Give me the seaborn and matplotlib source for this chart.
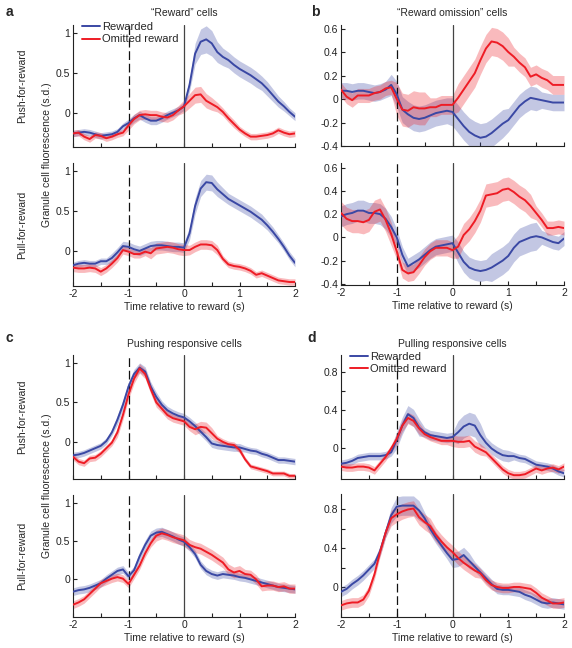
import numpy as np
import pandas as pd
import matplotlib
matplotlib.use("Agg")
import matplotlib.pyplot as plt
from matplotlib.lines import Line2D
import seaborn as sns

# ---------------- data ----------------
t = np.round(np.arange(-2, 2.0001, 0.1), 1)

# a: "Reward" cells
a_top_rew = [-0.26,-0.25,-0.24,-0.25,-0.27,-0.29,-0.28,-0.27,-0.24,-0.17,
             -0.13,-0.07,-0.03,-0.07,-0.10,-0.10,-0.07,-0.03,0.00,0.03,
             0.08,0.35,0.74,0.89,0.92,0.87,0.76,0.70,0.66,0.60,
             0.55,0.51,0.47,0.42,0.37,0.30,0.22,0.14,0.08,0.01,-0.05]
a_top_rew_err = [0.04]*10 + [0.05]*10 + [0.05,0.08,0.13,0.16,0.17,0.16,0.13,0.11,0.10,0.10,
                 0.10,0.10,0.10,0.10,0.09,0.09,0.08,0.07,0.06,0.05,0.05]
a_top_om = [-0.26,-0.25,-0.30,-0.33,-0.28,-0.29,-0.32,-0.30,-0.27,-0.25,
            -0.16,-0.08,-0.03,-0.02,-0.03,-0.03,-0.05,-0.06,-0.03,0.03,
            0.08,0.15,0.22,0.23,0.15,0.11,0.07,0.01,-0.07,-0.14,
            -0.21,-0.26,-0.30,-0.30,-0.29,-0.28,-0.26,-0.22,-0.25,-0.27,-0.26]
a_top_om_err = [0.04]*10 + [0.06]*10 + [0.08,0.09,0.10,0.10,0.09,0.08,0.06,0.05,0.05,0.05,
                0.04,0.04,0.04,0.04,0.04,0.04,0.04,0.04,0.04,0.04,0.04]
a_bot_rew = [-0.18,-0.16,-0.15,-0.16,-0.16,-0.13,-0.13,-0.09,-0.02,0.06,
             0.05,0.02,0.00,0.03,0.06,0.07,0.07,0.06,0.05,0.05,
             0.04,0.22,0.56,0.78,0.86,0.85,0.77,0.71,0.65,0.61,
             0.57,0.53,0.49,0.44,0.39,0.32,0.24,0.15,0.05,-0.06,-0.15]
a_bot_rew_err = [0.04]*7 + [0.06]*13 + [0.06,0.08,0.10,0.10,0.10,0.10,0.09,0.08,0.07,0.07,
                 0.07,0.07,0.07,0.07,0.07,0.06,0.06,0.05,0.05,0.05,0.05]
a_bot_om = [-0.21,-0.22,-0.22,-0.21,-0.22,-0.26,-0.22,-0.16,-0.09,0.01,
            -0.01,-0.04,-0.04,-0.01,-0.03,0.03,0.04,0.05,0.04,0.02,
            0.01,0.01,0.05,0.08,0.08,0.07,0.01,-0.10,-0.17,-0.19,
            -0.20,-0.22,-0.25,-0.30,-0.28,-0.31,-0.34,-0.37,-0.38,-0.39,-0.39]
a_bot_om_err = [0.05]*14 + [0.07]*7 + [0.06]*6 + [0.04]*14

# b: "Reward omission" cells
b_top_rew = [0.07,0.07,0.06,0.07,0.07,0.06,0.05,0.06,0.08,0.12,
             0.04,-0.09,-0.13,-0.16,-0.17,-0.16,-0.14,-0.12,-0.11,-0.10,
             -0.11,-0.17,-0.23,-0.28,-0.31,-0.33,-0.32,-0.29,-0.25,-0.21,
             -0.18,-0.12,-0.06,-0.02,0.01,0.00,-0.01,-0.02,-0.03,-0.03,-0.03]
b_top_rew_err = [0.07]*9 + [0.09] + [0.11]*10 + [0.12]*10 + [0.10]*6 + [0.07]*5
b_top_om = [0.08,0.02,-0.01,0.03,0.03,0.03,0.05,0.06,0.09,0.10,
            0.00,-0.09,-0.10,-0.07,-0.08,-0.08,-0.07,-0.07,-0.05,-0.05,
            -0.05,0.01,0.08,0.15,0.22,0.33,0.43,0.49,0.48,0.45,
            0.40,0.36,0.31,0.27,0.19,0.21,0.18,0.16,0.12,0.12,0.12]
b_top_om_err = [0.06]*10 + [0.14]*6 + [0.08]*5 + [0.12]*10 + [0.08]*10
b_bot_rew = [0.18,0.20,0.21,0.23,0.23,0.21,0.21,0.20,0.16,0.09,
             0.00,-0.15,-0.25,-0.22,-0.19,-0.15,-0.11,-0.08,-0.07,-0.06,
             -0.05,-0.13,-0.21,-0.26,-0.28,-0.29,-0.28,-0.26,-0.23,-0.20,
             -0.16,-0.09,-0.04,-0.02,0.00,0.01,0.00,-0.02,-0.04,-0.05,-0.01]
b_bot_rew_err = [0.09]*10 + [0.07]*11 + [0.09]*6 + [0.12]*9 + [0.06]*5
b_bot_om = [0.21,0.16,0.14,0.14,0.13,0.15,0.22,0.24,0.15,0.03,
            -0.12,-0.28,-0.31,-0.30,-0.24,-0.17,-0.12,-0.09,-0.09,-0.09,
            -0.11,-0.08,0.02,0.07,0.14,0.23,0.36,0.37,0.38,0.41,
            0.42,0.39,0.35,0.32,0.27,0.21,0.15,0.08,0.08,0.09,0.08]
b_bot_om_err = [0.10]*10 + [0.07]*11 + [0.10]*14 + [0.06]*6

# c: Pushing responsive cells
c_top_rew = [-0.17,-0.16,-0.14,-0.11,-0.08,-0.05,0.01,0.12,0.28,0.47,
             0.70,0.86,0.94,0.89,0.70,0.57,0.47,0.40,0.36,0.33,
             0.31,0.26,0.20,0.13,0.06,-0.02,-0.04,-0.05,-0.06,-0.07,
             -0.07,-0.09,-0.11,-0.12,-0.15,-0.17,-0.20,-0.23,-0.23,-0.24,-0.25]
c_top_rew_err = [0.04]*8 + [0.06]*8 + [0.05]*15 + [0.04]*10
c_top_om = [-0.19,-0.25,-0.27,-0.21,-0.20,-0.15,-0.08,-0.01,0.12,0.34,
            0.60,0.80,0.93,0.86,0.67,0.50,0.42,0.34,0.30,0.28,
            0.26,0.19,0.16,0.19,0.18,0.11,0.04,0.00,-0.03,-0.04,
            -0.10,-0.22,-0.31,-0.33,-0.35,-0.37,-0.40,-0.40,-0.40,-0.43,-0.43]
c_top_om_err = [0.04]*8 + [0.06]*8 + [0.05]*6 + [0.07]*4 + [0.04]*5 + [0.03]*10
c_bot_rew = [-0.16,-0.14,-0.13,-0.11,-0.08,-0.05,0.01,0.06,0.11,0.13,
             0.04,0.12,0.30,0.45,0.57,0.61,0.62,0.59,0.56,0.52,
             0.49,0.42,0.33,0.19,0.11,0.07,0.05,0.07,0.06,0.05,
             0.03,0.02,0.00,-0.02,-0.04,-0.06,-0.08,-0.10,-0.11,-0.12,-0.13]
c_bot_rew_err = [0.05]*12 + [0.06]*9 + [0.05]*20
c_bot_om = [-0.33,-0.30,-0.26,-0.19,-0.12,-0.05,-0.02,0.01,0.03,0.01,
            -0.06,0.06,0.18,0.34,0.47,0.57,0.60,0.58,0.55,0.53,
            0.51,0.45,0.42,0.40,0.36,0.32,0.27,0.22,0.13,0.09,
            0.11,0.07,0.06,0.00,-0.09,-0.08,-0.08,-0.10,-0.09,-0.12,-0.12]
c_bot_om_err = [0.05]*15 + [0.07]*16 + [0.06]*10

# d: Pulling responsive cells
d_top_rew = [-0.16,-0.15,-0.13,-0.10,-0.09,-0.08,-0.08,-0.08,-0.07,-0.04,
             0.09,0.24,0.36,0.32,0.22,0.17,0.14,0.13,0.12,0.11,
             0.12,0.17,0.23,0.26,0.24,0.14,0.06,0.00,-0.04,-0.07,
             -0.08,-0.08,-0.10,-0.11,-0.14,-0.17,-0.18,-0.19,-0.21,-0.24,-0.26]
d_top_rew_err = [0.04]*10 + [0.09]*5 + [0.05]*6 + [0.12]*5 + [0.06]*5 + [0.04]*10
d_top_om = [-0.19,-0.20,-0.20,-0.19,-0.19,-0.20,-0.23,-0.16,-0.09,0.00,
            0.10,0.24,0.32,0.29,0.21,0.15,0.12,0.10,0.08,0.08,
            0.08,0.07,0.07,0.08,0.02,-0.01,-0.04,-0.10,-0.16,-0.22,
            -0.26,-0.28,-0.28,-0.27,-0.24,-0.21,-0.23,-0.21,-0.20,-0.22,-0.19]
d_top_om_err = [0.04]*10 + [0.06]*5 + [0.04]*5 + [0.06]*6 + [0.04]*15
d_bot_rew = [-0.05,-0.02,0.03,0.07,0.12,0.18,0.24,0.37,0.56,0.74,
             0.83,0.84,0.84,0.84,0.79,0.71,0.60,0.51,0.43,0.35,
             0.28,0.29,0.33,0.27,0.21,0.15,0.09,0.03,-0.02,-0.03,
             -0.03,-0.04,-0.05,-0.08,-0.10,-0.13,-0.16,-0.17,-0.16,-0.17,-0.18]
d_bot_rew_err = [0.05]*9 + [0.08] + [0.10]*5 + [0.06]*5 + [0.08]*4 + [0.05]*17
d_bot_om = [-0.19,-0.17,-0.16,-0.16,-0.13,-0.04,0.13,0.36,0.56,0.71,
            0.75,0.78,0.80,0.81,0.72,0.67,0.63,0.54,0.47,0.41,
            0.36,0.30,0.25,0.21,0.17,0.14,0.07,0.02,0.00,-0.01,
            -0.01,0.00,0.00,-0.01,-0.02,-0.06,-0.11,-0.14,-0.17,-0.17,-0.16]
d_bot_om_err = [0.05]*9 + [0.08]*8 + [0.07]*8 + [0.05]*16

conditions = ["Rewarded", "Omitted reward"]
BLUE = "#3a48a4"
RED = "#ee1c25"

# ---------------- style ----------------
sns.set_style("ticks")
plt.rcParams["font.family"] = ["Liberation Sans", "DejaVu Sans"]
plt.rcParams["axes.unicode_minus"] = False

W, H = 572, 648
fig = plt.figure(figsize=(W / 100, H / 100), dpi=100)
FS = 7.5


def add_ax(x0, y0, x1, y1):
    return fig.add_axes([x0 / W, 1 - y1 / H, (x1 - x0) / W, (y1 - y0) / H])


def ftext(x, y, s, **kw):
    fig.text(x / W, 1 - y / H, s, **kw)


def draw_panel(ax, rew, rew_err, om, om_err, ylim, yticks, ylabels, bottom):
    rew = np.asarray(rew); om = np.asarray(om)
    rew_err = np.asarray(rew_err); om_err = np.asarray(om_err)
    ax.fill_between(t, rew - rew_err, rew + rew_err, color=BLUE, alpha=0.3, lw=0, zorder=1)
    ax.fill_between(t, om - om_err, om + om_err, color=RED, alpha=0.3, lw=0, zorder=1)
    ax.axvline(-1, color="#111111", ls=(0, (7, 3)), lw=0.9, zorder=2)
    ax.axvline(0, color="#444444", lw=0.9, zorder=2)
    df = pd.DataFrame({
        "t": np.concatenate([t, t]),
        "value": np.concatenate([rew, om]),
        "condition": [conditions[0]] * len(t) + [conditions[1]] * len(t),
    })
    sns.lineplot(data=df, x="t", y="value", hue="condition",
                 palette={conditions[0]: BLUE, conditions[1]: RED},
                 ax=ax, legend=False, lw=1.4, zorder=3)
    ax.set_xlim(-2, 2)
    ax.set_ylim(*ylim)
    ax.set_xticks(np.arange(-2, 2.01, 0.5))
    if bottom:
        ax.set_xticklabels(["-2", "", "-1", "", "0", "", "1", "", "2"])
        ax.set_xlabel("Time relative to reward (s)", fontsize=FS, labelpad=2)
    else:
        ax.set_xticklabels([""] * 9)
        ax.set_xlabel("")
    ax.set_yticks(yticks)
    ax.set_yticklabels(ylabels)
    ax.set_ylabel("")
    ax.tick_params(direction="in", length=3, width=0.8, labelsize=FS, pad=2, colors="#222222")
    sns.despine(ax=ax)
    for s in ("left", "bottom"):
        ax.spines[s].set_linewidth(0.8)
        ax.spines[s].set_color("#222222")


def add_legend(ax):
    handles = [Line2D([], [], color=BLUE, lw=1.4), Line2D([], [], color=RED, lw=1.4)]
    ax.legend(handles, conditions, loc="upper left", bbox_to_anchor=(0.04, 1.025),
              frameon=False, fontsize=FS + 0.5, handlelength=1.6, handletextpad=0.25,
              labelspacing=0.22, borderpad=0, borderaxespad=0)


ab_ticks = [0, 0.5, 1]; ab_labels = ["0", "0.5", "1"]
b_ticks = [-0.4, -0.2, 0, 0.2, 0.4, 0.6]; b_labels = ["-0.4", "-0.2", "0", "0.2", "0.4", "0.6"]
d_ticks = [0, 0.2, 0.4, 0.6, 0.8]; d_labels = ["0", "", "0.4", "", "0.8"]

ax = add_ax(73, 25, 295, 147)
draw_panel(ax, a_top_rew, a_top_rew_err, a_top_om, a_top_om_err, (-0.43, 1.1), ab_ticks, ab_labels, False)
add_legend(ax)
ax = add_ax(73, 163, 295, 286)
draw_panel(ax, a_bot_rew, a_bot_rew_err, a_bot_om, a_bot_om_err, (-0.44, 1.1), ab_ticks, ab_labels, True)

ax = add_ax(341, 25, 564, 146)
draw_panel(ax, b_top_rew, b_top_rew_err, b_top_om, b_top_om_err, (-0.4, 0.63), b_ticks, b_labels, False)
ax = add_ax(341, 163, 564, 285)
draw_panel(ax, b_bot_rew, b_bot_rew_err, b_bot_om, b_bot_om_err, (-0.41, 0.64), b_ticks, b_labels, True)

ax = add_ax(73, 355, 295, 479)
draw_panel(ax, c_top_rew, c_top_rew_err, c_top_om, c_top_om_err, (-0.47, 1.1), ab_ticks, ab_labels, False)
ax = add_ax(73, 495, 295, 617)
draw_panel(ax, c_bot_rew, c_bot_rew_err, c_bot_om, c_bot_om_err, (-0.49, 1.1), ab_ticks, ab_labels, True)

ax = add_ax(341, 355, 564, 479)
draw_panel(ax, d_top_rew, d_top_rew_err, d_top_om, d_top_om_err, (-0.32, 0.98), d_ticks, d_labels, False)
add_legend(ax)
ax = add_ax(341, 494, 564, 617)
draw_panel(ax, d_bot_rew, d_bot_rew_err, d_bot_om, d_bot_om_err, (-0.31, 0.96), d_ticks, d_labels, True)

# titles
ftext(184, 13, "\u201cReward\u201d cells", ha="center", va="center", fontsize=FS)
ftext(452, 13, "\u201cReward omission\u201d cells", ha="center", va="center", fontsize=FS)
ftext(184, 344, "Pushing responsive cells", ha="center", va="center", fontsize=FS)
ftext(452, 344, "Pulling responsive cells", ha="center", va="center", fontsize=FS)

# panel letters
for x, y, s in [(9, 12, "a"), (315, 12, "b"), (9, 338, "c"), (312, 338, "d")]:
    ftext(x, y, s, ha="center", va="center", fontsize=10, fontweight="bold")

# row labels
for yc in (86, 417):
    ftext(22, yc, "Push-for-reward", ha="center", va="center", rotation=90, fontsize=FS)
for yc in (225, 556):
    ftext(22, yc, "Pull-for-reward", ha="center", va="center", rotation=90, fontsize=FS)
for yc in (155, 486):
    ftext(47, yc, "Granule cell fluorescence (s.d.)", ha="center", va="center", rotation=90, fontsize=FS)

fig.savefig("out.png", dpi=100)
